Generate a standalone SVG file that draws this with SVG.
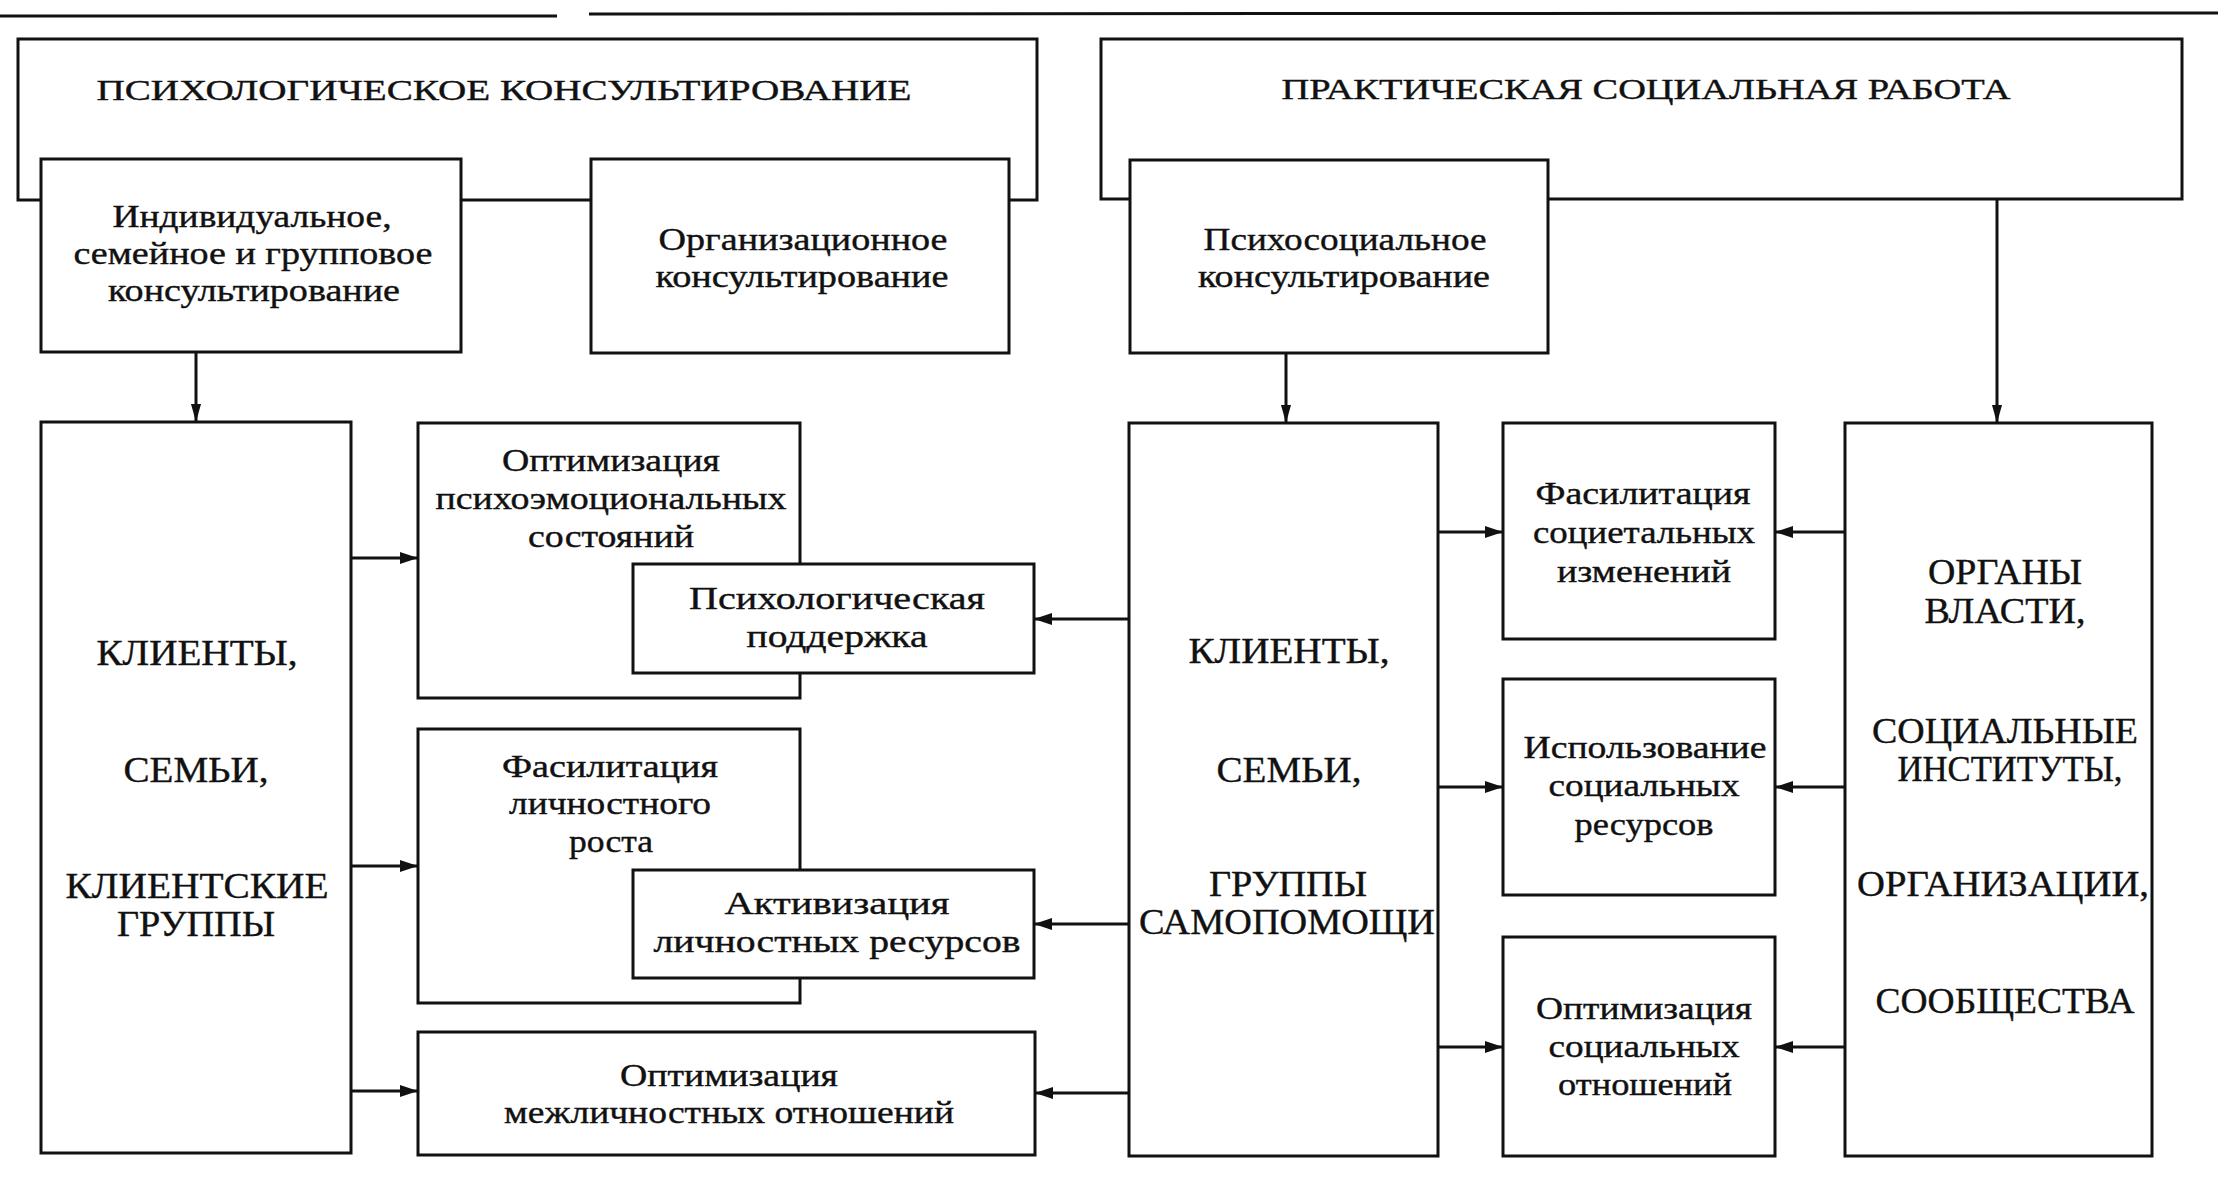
<svg xmlns="http://www.w3.org/2000/svg" width="2224" height="1200" viewBox="0 0 2224 1200">
<style>
.b{fill:#fff;stroke:#111;stroke-width:3}
.c{stroke:#111;stroke-width:3;fill:none}
text{font-family:"Liberation Serif","Times New Roman",serif;fill:#111;text-anchor:middle;stroke:#111;stroke-width:0.4}
.t{font-size:32px}
.k{font-size:36px}
.h{font-size:30px}
</style>
<defs>
<marker id="ah" markerWidth="18" markerHeight="12" refX="17" refY="6" orient="auto" markerUnits="userSpaceOnUse"><path d="M0,0 L18,6 L0,12 z" fill="#111"/></marker>
<marker id="av" markerWidth="18" markerHeight="10" refX="17" refY="5" orient="auto" markerUnits="userSpaceOnUse"><path d="M0,0 L18,5 L0,10 z" fill="#111"/></marker>
</defs>
<rect width="2224" height="1200" fill="#fff"/>
<g id="rule">
<line x1="0" y1="16" x2="557" y2="16" class="c"/>
<line x1="589" y1="14" x2="2218" y2="13" class="c"/>
</g>
<g id="psych-consult">
<rect class="b" x="18" y="39" width="1019" height="161"/>
<text class="h" x="504" y="100" textLength="815" lengthAdjust="spacingAndGlyphs">ПСИХОЛОГИЧЕСКОЕ КОНСУЛЬТИРОВАНИЕ</text>
</g>
<g id="social-work">
<rect class="b" x="1101" y="39" width="1081" height="160"/>
<text class="h" x="1646" y="99" textLength="729" lengthAdjust="spacingAndGlyphs">ПРАКТИЧЕСКАЯ СОЦИАЛЬНАЯ РАБОТА</text>
</g>
<g id="individual">
<rect class="b" x="41" y="159" width="420" height="193"/>
<text class="t" x="252" y="227" textLength="279" lengthAdjust="spacingAndGlyphs">Индивидуальное,</text>
<text class="t" x="253" y="264" textLength="359" lengthAdjust="spacingAndGlyphs">семейное и групповое</text>
<text class="t" x="254" y="301" textLength="292" lengthAdjust="spacingAndGlyphs">консультирование</text>
</g>
<g id="organizational">
<rect class="b" x="591" y="159" width="418" height="194"/>
<text class="t" x="803" y="250" textLength="289" lengthAdjust="spacingAndGlyphs">Организационное</text>
<text class="t" x="802" y="287" textLength="293" lengthAdjust="spacingAndGlyphs">консультирование</text>
</g>
<g id="psychosocial">
<rect class="b" x="1130" y="160" width="418" height="193"/>
<text class="t" x="1345" y="250" textLength="283" lengthAdjust="spacingAndGlyphs">Психосоциальное</text>
<text class="t" x="1344" y="287" textLength="292" lengthAdjust="spacingAndGlyphs">консультирование</text>
</g>
<g id="clients-left">
<rect class="b" x="41" y="422" width="310" height="731"/>
<text class="k" x="197" y="665" textLength="201" lengthAdjust="spacingAndGlyphs">КЛИЕНТЫ,</text>
<text class="k" x="196" y="782" textLength="145" lengthAdjust="spacingAndGlyphs">СЕМЬИ,</text>
<text class="k" x="197" y="898" textLength="263" lengthAdjust="spacingAndGlyphs">КЛИЕНТСКИЕ</text>
<text class="k" x="196" y="936" textLength="158" lengthAdjust="spacingAndGlyphs">ГРУППЫ</text>
</g>
<g id="opt-psychoemo">
<rect class="b" x="418" y="423" width="382" height="275"/>
<text class="t" x="611" y="471" textLength="218" lengthAdjust="spacingAndGlyphs">Оптимизация</text>
<text class="t" x="611" y="509" textLength="351" lengthAdjust="spacingAndGlyphs">психоэмоциональных</text>
<text class="t" x="611" y="547" textLength="166" lengthAdjust="spacingAndGlyphs">состояний</text>
</g>
<g id="psych-support">
<rect class="b" x="633" y="564" width="401" height="109"/>
<text class="t" x="837" y="609" textLength="296" lengthAdjust="spacingAndGlyphs">Психологическая</text>
<text class="t" x="837" y="647" textLength="181" lengthAdjust="spacingAndGlyphs">поддержка</text>
</g>
<g id="facil-personal">
<rect class="b" x="418" y="729" width="382" height="274"/>
<text class="t" x="610" y="777" textLength="216" lengthAdjust="spacingAndGlyphs">Фасилитация</text>
<text class="t" x="610" y="814" textLength="202" lengthAdjust="spacingAndGlyphs">личностного</text>
<text class="t" x="611" y="852" textLength="84" lengthAdjust="spacingAndGlyphs">роста</text>
</g>
<g id="activation">
<rect class="b" x="633" y="870" width="401" height="108"/>
<text class="t" x="837" y="914" textLength="225" lengthAdjust="spacingAndGlyphs">Активизация</text>
<text class="t" x="837" y="952" textLength="367" lengthAdjust="spacingAndGlyphs">личностных ресурсов</text>
</g>
<g id="opt-interpersonal">
<rect class="b" x="418" y="1032" width="617" height="123"/>
<text class="t" x="729" y="1086" textLength="218" lengthAdjust="spacingAndGlyphs">Оптимизация</text>
<text class="t" x="729" y="1123" textLength="450" lengthAdjust="spacingAndGlyphs">межличностных отношений</text>
</g>
<g id="clients-mid">
<rect class="b" x="1129" y="423" width="309" height="733"/>
<text class="k" x="1289" y="663" textLength="201" lengthAdjust="spacingAndGlyphs">КЛИЕНТЫ,</text>
<text class="k" x="1289" y="782" textLength="145" lengthAdjust="spacingAndGlyphs">СЕМЬИ,</text>
<text class="k" x="1288" y="896" textLength="158" lengthAdjust="spacingAndGlyphs">ГРУППЫ</text>
<text class="k" x="1287" y="934" textLength="296" lengthAdjust="spacingAndGlyphs">САМОПОМОЩИ</text>
</g>
<g id="facil-societal">
<rect class="b" x="1503" y="423" width="272" height="216"/>
<text class="t" x="1643" y="504" textLength="215" lengthAdjust="spacingAndGlyphs">Фасилитация</text>
<text class="t" x="1644" y="543" textLength="222" lengthAdjust="spacingAndGlyphs">социетальных</text>
<text class="t" x="1644" y="582" textLength="174" lengthAdjust="spacingAndGlyphs">изменений</text>
</g>
<g id="use-resources">
<rect class="b" x="1503" y="679" width="272" height="216"/>
<text class="t" x="1645" y="758" textLength="243" lengthAdjust="spacingAndGlyphs">Использование</text>
<text class="t" x="1644" y="796" textLength="191" lengthAdjust="spacingAndGlyphs">социальных</text>
<text class="t" x="1644" y="835" textLength="139" lengthAdjust="spacingAndGlyphs">ресурсов</text>
</g>
<g id="opt-social">
<rect class="b" x="1503" y="937" width="272" height="219"/>
<text class="t" x="1644" y="1019" textLength="216" lengthAdjust="spacingAndGlyphs">Оптимизация</text>
<text class="t" x="1644" y="1057" textLength="191" lengthAdjust="spacingAndGlyphs">социальных</text>
<text class="t" x="1645" y="1095" textLength="174" lengthAdjust="spacingAndGlyphs">отношений</text>
</g>
<g id="authorities">
<rect class="b" x="1845" y="423" width="307" height="733"/>
<text class="k" x="2005" y="584" textLength="154" lengthAdjust="spacingAndGlyphs">ОРГАНЫ</text>
<text class="k" x="2005" y="623" textLength="161" lengthAdjust="spacingAndGlyphs">ВЛАСТИ,</text>
<text class="k" x="2005" y="743" textLength="266" lengthAdjust="spacingAndGlyphs">СОЦИАЛЬНЫЕ</text>
<text class="k" x="2010" y="781" textLength="225" lengthAdjust="spacingAndGlyphs">ИНСТИТУТЫ,</text>
<text class="k" x="2003" y="896" textLength="292" lengthAdjust="spacingAndGlyphs">ОРГАНИЗАЦИИ,</text>
<text class="k" x="2005" y="1013" textLength="259" lengthAdjust="spacingAndGlyphs">СООБЩЕСТВА</text>
</g>
<g id="connectors" class="c">
<line x1="196" y1="352" x2="196" y2="421" marker-end="url(#av)"/>
<line x1="1286" y1="353" x2="1286" y2="422" marker-end="url(#av)"/>
<line x1="1997" y1="199" x2="1997" y2="422" marker-end="url(#av)"/>
<line x1="351" y1="558" x2="417" y2="558" marker-end="url(#ah)"/>
<line x1="351" y1="866" x2="417" y2="866" marker-end="url(#ah)"/>
<line x1="351" y1="1091" x2="417" y2="1091" marker-end="url(#ah)"/>
<line x1="1129" y1="619" x2="1035" y2="619" marker-end="url(#ah)"/>
<line x1="1129" y1="924" x2="1035" y2="924" marker-end="url(#ah)"/>
<line x1="1129" y1="1093" x2="1036" y2="1093" marker-end="url(#ah)"/>
<line x1="1438" y1="532" x2="1502" y2="532" marker-end="url(#ah)"/>
<line x1="1438" y1="787" x2="1502" y2="787" marker-end="url(#ah)"/>
<line x1="1438" y1="1047" x2="1502" y2="1047" marker-end="url(#ah)"/>
<line x1="1845" y1="532" x2="1776" y2="532" marker-end="url(#ah)"/>
<line x1="1845" y1="787" x2="1776" y2="787" marker-end="url(#ah)"/>
<line x1="1845" y1="1047" x2="1776" y2="1047" marker-end="url(#ah)"/>
</g>
</svg>
